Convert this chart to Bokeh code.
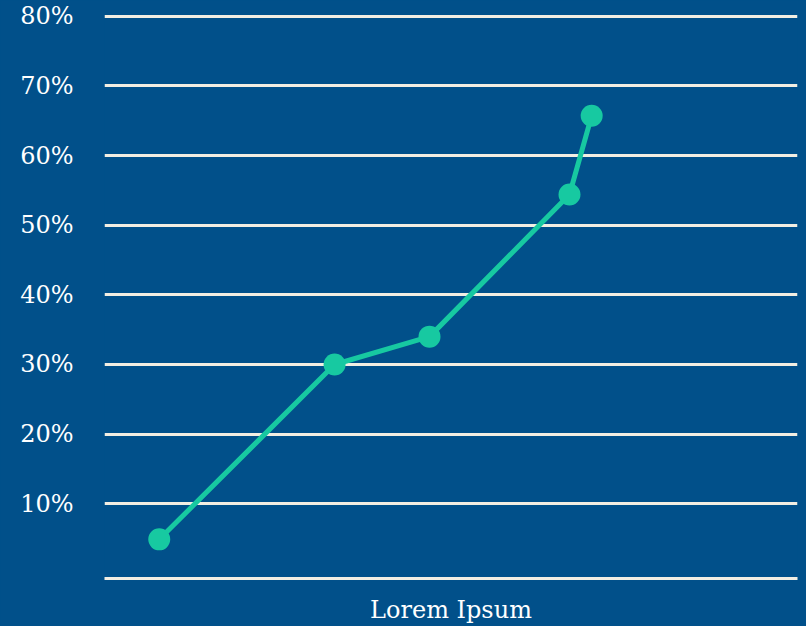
from bokeh.plotting import figure
from bokeh.models import Range1d, FixedTicker, GlobalInlineStyleSheet
from bokeh.embed import file_html
from bokeh.resources import INLINE

# ---- data ----
x_values = [0.79, 3.32, 4.69, 6.71, 7.03]
y_values = [4.9, 30.0, 34.0, 54.4, 65.7]
y_ticks = [10, 20, 30, 40, 50, 60, 70, 80]
y_tick_labels = ["10%", "20%", "30%", "40%", "50%", "60%", "70%", "80%"]
x_label = "Lorem Ipsum"

BG = "#01508A"
GRID = "#F2EEE3"
LINE = "#17C9A1"
FONT = "DejaVu Serif"

p = figure(width=806, height=626, output_backend="svg", toolbar_location=None,
           x_range=Range1d(0, 10), y_range=Range1d(-0.72, 80.24),
           min_border_left=104, min_border_right=9, min_border_top=14, min_border_bottom=48)
p.stylesheets = [GlobalInlineStyleSheet(css="body{background:%s;}" % BG)]
p.background_fill_color = BG
p.border_fill_color = BG
p.outline_line_color = None

p.xgrid.visible = False
p.ygrid.ticker = FixedTicker(ticks=y_ticks)
p.ygrid.grid_line_color = GRID
p.ygrid.grid_line_width = 3

p.yaxis.ticker = FixedTicker(ticks=y_ticks)
p.yaxis.major_label_overrides = {t: l for t, l in zip(y_ticks, y_tick_labels)}
p.yaxis.axis_line_color = None
p.yaxis.major_tick_line_color = None
p.yaxis.minor_tick_line_color = None
p.yaxis.major_tick_out = 0
p.yaxis.major_label_standoff = 31
p.yaxis.major_label_text_font = FONT
p.yaxis.major_label_text_font_size = "24px"
p.yaxis.major_label_text_color = "white"

p.xaxis.ticker = FixedTicker(ticks=[])
p.xaxis.axis_line_color = GRID
p.xaxis.axis_line_width = 3
p.xaxis.major_tick_line_color = None
p.xaxis.minor_tick_line_color = None
p.xaxis.axis_label = x_label
p.xaxis.axis_label_text_font = FONT
p.xaxis.axis_label_text_font_style = "normal"
p.xaxis.axis_label_text_font_size = "24px"
p.xaxis.axis_label_text_color = "white"
p.xaxis.axis_label_standoff = 17

p.line(x_values, y_values, line_color=LINE, line_width=5)
p.scatter(x_values, y_values, size=22, fill_color=LINE, line_color=None)

open("out.html", "w").write(file_html(p, INLINE))
